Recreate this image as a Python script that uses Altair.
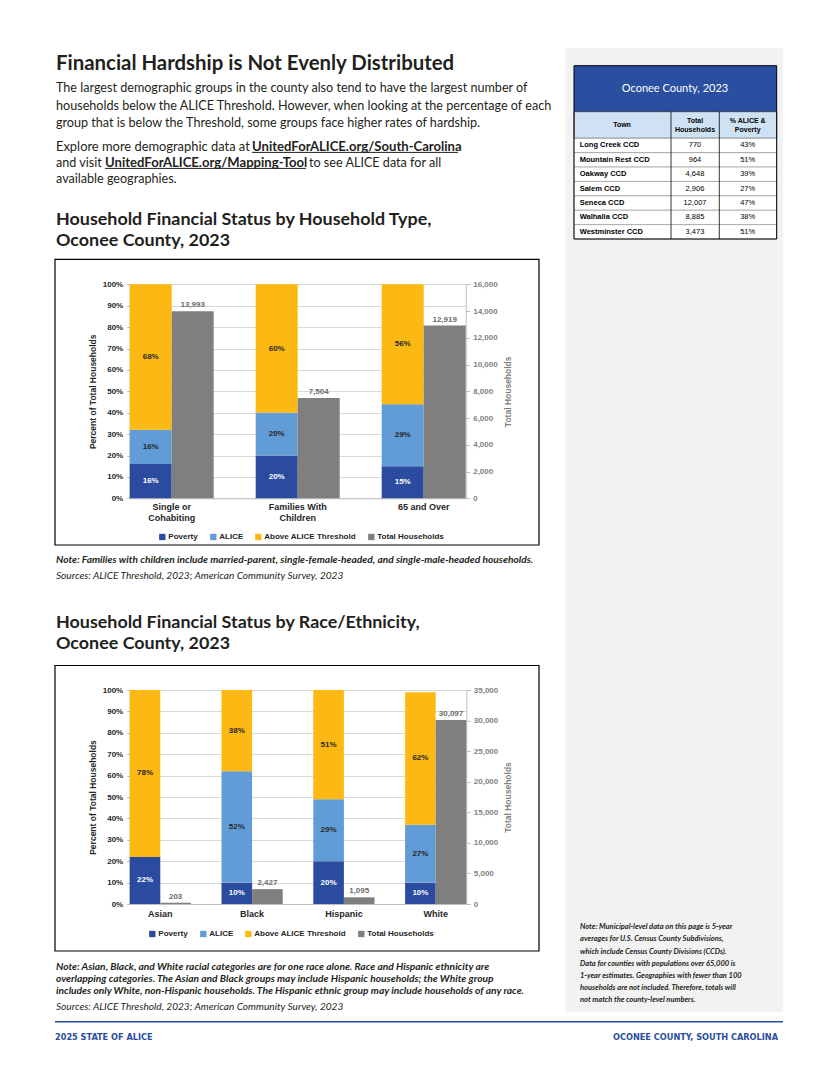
import altair as alt
import pandas as pd

# ------------------------------------------------------------------ data
series = ["Poverty", "ALICE", "Above ALICE Threshold", "Total Households"]
series_colors = ["#2b4b9f", "#629cd6", "#fdb913", "#7f7f7f"]

hh_types = ["Single or\nCohabiting", "Families With\nChildren", "65 and Over"]
hh_poverty = [16, 20, 15]
hh_alice = [16, 20, 29]
hh_above = [68, 60, 56]
hh_total = [13993, 7504, 12919]
hh_total_ticks = [0, 2000, 4000, 6000, 8000, 10000, 12000, 14000, 16000]

races = ["Asian", "Black", "Hispanic", "White"]
race_poverty = [22, 10, 20, 10]
race_alice = [0, 52, 29, 27]
race_above = [78, 38, 51, 62]
race_total = [203, 2427, 1095, 30097]
race_total_ticks = [0, 5000, 10000, 15000, 20000, 25000, 30000, 35000]

pct_ticks = [0, 10, 20, 30, 40, 50, 60, 70, 80, 90, 100]

towns = ["Long Creek CCD", "Mountain Rest CCD", "Oakway CCD", "Salem CCD",
         "Seneca CCD", "Walhalla CCD", "Westminster CCD"]
town_households = [770, 964, 4648, 2906, 12007, 8885, 3473]
town_alice_poverty = [43, 51, 39, 27, 47, 38, 51]
table_title = "Oconee County, 2023"
head_town = ["Town"]
head_total = ["Total", "Households"]
head_pct = ["% ALICE &", "Poverty"]

page_title = "Financial Hardship is Not Evenly Distributed"
intro_lines = [
    "The largest demographic groups in the county also tend to have the largest number of",
    "households below the ALICE Threshold. However, when looking at the percentage of each",
    "group that is below the Threshold, some groups face higher rates of hardship.",
]
explore_1a = "Explore more demographic data at"
explore_1b = "UnitedForALICE.org/South-Carolina"
explore_2a = "and visit"
explore_2b = "UnitedForALICE.org/Mapping-Tool"
explore_2c = "to see ALICE data for all"
explore_3 = "available geographies."
chart1_title = ["Household Financial Status by Household Type,", "Oconee County, 2023"]
chart1_note = ["Note: Families with children include married-parent, single-female-headed, and single-male-headed households."]
sources = ["Sources: ALICE Threshold, 2023; American Community Survey, 2023"]
chart2_title = ["Household Financial Status by Race/Ethnicity,", "Oconee County, 2023"]
chart2_note = [
    "Note: Asian, Black, and White racial categories are for one race alone. Race and Hispanic ethnicity are",
    "overlapping categories. The Asian and Black groups may include Hispanic households; the White group",
    "includes only White, non-Hispanic households. The Hispanic ethnic group may include households of any race.",
]
side_note = [
    "Note: Municipal-level data on this page is 5-year",
    "averages for U.S. Census County Subdivisions,",
    "which include Census County Divisions (CCDs).",
    "Data for counties with populations over 65,000 is",
    "1-year estimates. Geographies with fewer than 100",
    "households are not included. Therefore, totals will",
    "not match the county-level numbers.",
]
footer_left = "2025 STATE OF ALICE"
footer_right = "OCONEE COUNTY, SOUTH CAROLINA"
y_title = "Percent of Total Households"
y2_title = "Total Households"

# ------------------------------------------------------------------ style / layout
W, H = 806, 1060
CH = "Liberation Sans, Arial, Helvetica, sans-serif"
BODY = "Lato, 'Open Sans', sans-serif"
COND = "'Liberation Sans Narrow', 'Arial Narrow', 'DejaVu Sans Condensed', sans-serif"
INK = "#231f20"
BLUE = "#2a4ea0"
DARK = "#262626"
ONE = alt.Data(values=[{"k": 1}])


def rect(x, x2, y, y2, **kw):
    return alt.Chart(ONE).mark_rect(**kw).encode(
        x=alt.value(x), x2=alt.value(x2), y=alt.value(y), y2=alt.value(y2))


def rule(x, x2, y, y2, **kw):
    return alt.Chart(ONE).mark_rule(**kw).encode(
        x=alt.value(x), x2=alt.value(x2), y=alt.value(y), y2=alt.value(y2))


def word(text, x, y, align="left", **kw):
    return alt.Chart(ONE).mark_text(align=align, baseline="middle", **kw).encode(
        x=alt.value(x), y=alt.value(y), text=alt.value(text))


def text_lines(lines, x, y0, lh, align="left", **kw):
    df = pd.DataFrame({"t": lines, "i": list(range(len(lines)))})
    return (alt.Chart(df)
            .transform_calculate(py=f"{y0} + datum.i * {lh}")
            .mark_text(align=align, baseline="middle", **kw)
            .encode(x=alt.value(x), y=alt.Y("py:Q", scale=None, axis=None), text="t:N"))


def bar_block(cats, pov, ali, abv, totals, total_ticks, x0, x1, yb, yt, leg_x, leg_y, xlab_pad):
    rows = []
    for c, vals in zip(cats, zip(pov, ali, abv)):
        for k, v in enumerate(vals):
            rows.append({"cat": c, "series": series[k], "k": k, "pct": v / 100, "slot": "share"})
    share = pd.DataFrame(rows)
    tot = pd.DataFrame({"cat": cats, "total": totals, "slot": ["total"] * len(cats)})

    n = len(cats)
    step = (x1 - x0) / (n - 1 / 3)
    xs = alt.Scale(type="band", domain=cats, range=[x0, x1], paddingInner=1 / 3, paddingOuter=0)
    xa = alt.Scale(type="band", domain=cats, range=[x0, x1 - step / 3], paddingInner=2 / 3, paddingOuter=0)
    xb = alt.Scale(type="band", domain=cats, range=[x0 + step / 3, x1], paddingInner=2 / 3, paddingOuter=0)
    xo = alt.Scale(domain=["share", "total"], paddingInner=0, paddingOuter=0)
    ys = alt.Scale(domain=[0, 1], range=[yb, yt], nice=False)
    y2s = alt.Scale(domain=[0, total_ticks[-1]], range=[yb, yt], nice=False)
    cs = alt.Scale(domain=series, range=series_colors)

    x_axis = alt.Axis(orient="bottom", offset=yb - H, title=None, ticks=False, grid=False,
                      domainColor="#bfbfbf", labelFont=CH, labelFontSize=9, labelFontWeight="bold",
                      labelColor=DARK, labelPadding=xlab_pad, labelLineHeight=11, labelAngle=0,
                      labelExpr="split(datum.label, '\\n')")
    pct_axis = alt.Axis(orient="left", offset=-x0, values=[t / 100 for t in pct_ticks], format=".0%",
                        grid=True, gridColor="#d9d9d9", gridWidth=1, domainColor="#bfbfbf",
                        tickColor="#bfbfbf", tickSize=3, labelFont=CH, labelFontSize=8,
                        labelFontWeight="bold", labelColor=DARK, labelPadding=4,
                        title=y_title, titleFont=CH, titleFontSize=8.5, titleFontWeight="bold",
                        titleColor=DARK, titlePadding=5)
    tot_axis = alt.Axis(orient="right", offset=x1 - W, values=total_ticks, format=",.0f", grid=False,
                        domainColor="#bfbfbf", tickColor="#bfbfbf", tickSize=4, labelFont=CH,
                        labelFontSize=8, labelFontWeight="bold", labelColor="#7f7f7f", labelPadding=3,
                        title=y2_title, titleFont=CH, titleFontSize=8.5, titleFontWeight="bold",
                        titleColor="#7f7f7f", titleAngle=270, titleBaseline="top", titlePadding=6)
    legend = alt.Legend(orient="none", legendX=leg_x, legendY=leg_y, direction="horizontal",
                        title=None, symbolType="square", symbolSize=40, symbolStrokeWidth=0,
                        labelFont=CH, labelFontSize=8, labelFontWeight="bold", labelColor=DARK,
                        labelOffset=2, columnPadding=11, padding=0, labelLimit=300)

    stack = alt.Chart(share).transform_stack(
        stack="pct", groupby=["cat"], as_=["y0", "y1"], sort=[alt.SortField("k", order="ascending")])
    bars = stack.mark_bar().encode(
        x=alt.X("cat:N", scale=xs, axis=x_axis),
        xOffset=alt.XOffset("slot:N", scale=xo),
        y=alt.Y("y0:Q", scale=ys, axis=pct_axis),
        y2="y1:Q",
        color=alt.Color("series:N", scale=cs, legend=legend))
    labels = (stack.transform_filter("datum.pct > 0")
              .transform_calculate(mid="(datum.y0 + datum.y1) / 2", lab="format(datum.pct, '.0%')")
              .mark_text(font=CH, fontSize=8, fontWeight="bold")
              .encode(x=alt.X("cat:N", scale=xa, axis=None),
                      y=alt.Y("mid:Q", scale=ys, axis=None),
                      text="lab:N",
                      color=alt.condition(alt.datum.series == "Poverty", alt.value("#ffffff"),
                                          alt.value(DARK))))
    tbars = alt.Chart(tot).mark_bar(color=series_colors[3]).encode(
        x=alt.X("cat:N", scale=xs, axis=None),
        xOffset=alt.XOffset("slot:N", scale=xo),
        y=alt.Y("total:Q", scale=y2s, axis=tot_axis))
    tlabels = alt.Chart(tot).mark_text(font=CH, fontSize=8, fontWeight="bold", color="#6b6b6b",
                                       baseline="bottom", dy=-2).encode(
        x=alt.X("cat:N", scale=xb, axis=None),
        y=alt.Y("total:Q", scale=y2s, axis=None),
        text=alt.Text("total:Q", format=","))
    return [bars, labels, tbars, tlabels]


layers = []

# ---- right side panel and table
layers.append(rect(557, 775, 40, 1004, fill="#f2f2f2"))
layers.append(rect(566, 768.7, 57.7, 103.7, fill=BLUE))
layers.append(word(table_title, 667, 81.3, align="center", font=BODY, fontSize=11, color="#ffffff"))
layers.append(rect(566, 768.7, 103.7, 130.3, fill="#cfe2f3", stroke="#000000", strokeWidth=0.6))

tbl = pd.DataFrame({"town": towns, "hh": town_households, "pct": town_alice_poverty})
ry = alt.Scale(domain=towns, range=[130.3, 231], paddingInner=0, paddingOuter=0)
layers.append(alt.Chart(tbl).mark_rect(fill="#ffffff", stroke="#8c8c8c", strokeWidth=0.6).encode(
    y=alt.Y("town:N", scale=ry, axis=None), x=alt.value(566), x2=alt.value(768.7)))
layers.append(alt.Chart(tbl).mark_text(align="left", baseline="middle", font=CH, fontSize=7.5,
                                       fontWeight="bold", color="#000000").encode(
    y=alt.Y("town:N", scale=ry, axis=None), x=alt.value(571.7), text="town:N"))
layers.append(alt.Chart(tbl).mark_text(align="center", baseline="middle", font=CH, fontSize=7.5,
                                       color="#000000").encode(
    y=alt.Y("town:N", scale=ry, axis=None), x=alt.value(687), text=alt.Text("hh:Q", format=",")))
layers.append(alt.Chart(tbl).transform_calculate(lab="datum.pct + '%'").mark_text(
    align="center", baseline="middle", font=CH, fontSize=7.5, color="#000000").encode(
    y=alt.Y("town:N", scale=ry, axis=None), x=alt.value(739.7), text="lab:N"))
layers.append(text_lines(head_town, 614, 117, 8.5, align="center", font=CH, fontSize=7, fontWeight="bold", color="#000000"))
layers.append(text_lines(head_total, 687, 113, 8.5, align="center", font=CH, fontSize=7, fontWeight="bold", color="#000000"))
layers.append(text_lines(head_pct, 739.7, 113, 8.5, align="center", font=CH, fontSize=7, fontWeight="bold", color="#000000"))
layers.append(rule(663, 663, 103.7, 231, color="#000000", strokeWidth=0.8))
layers.append(rule(711.3, 711.3, 103.7, 231, color="#000000", strokeWidth=0.8))
layers.append(rect(566, 768.7, 57.7, 231, fillOpacity=0, stroke="#000000", strokeWidth=1))
layers.append(text_lines(side_note, 572, 919.3, 12.1, font=BODY, fontSize=7.5, fontWeight="bold",
                         fontStyle="italic", color=INK))

# ---- page text
layers.append(word(page_title, 48, 56, font=BODY, fontSize=20.4, fontWeight="bold", color=INK))
layers.append(text_lines(intro_lines, 48, 80.3, 17.2, font=BODY, fontSize=12.6, color=INK))
layers.append(word(explore_1a, 48, 139.3, font=BODY, fontSize=12.9, color=INK))
layers.append(word(explore_1b, 244, 139.3, font=BODY, fontSize=13.1, fontWeight="bold", color=INK))
layers.append(word(explore_2a, 48, 155.3, font=BODY, fontSize=12.6, color=INK))
layers.append(word(explore_2b, 97, 155.3, font=BODY, fontSize=13.1, fontWeight="bold", color=INK))
layers.append(word(explore_2c, 301, 155.3, font=BODY, fontSize=12.6, color=INK))
layers.append(word(explore_3, 48, 171.3, font=BODY, fontSize=12.6, color=INK))
layers.append(rule(244, 450, 144.4, 144.4, color=INK, strokeWidth=1))
layers.append(rule(97, 298, 160.4, 160.4, color=INK, strokeWidth=1))
layers.append(text_lines(chart1_title, 48, 212.3, 20.7, font=BODY, fontSize=17.9, fontWeight="bold", color=INK))

# ---- chart 1
layers += bar_block(hh_types, hh_poverty, hh_alice, hh_above, hh_total, hh_total_ticks,
                    121.7, 457.7, 490.3, 276.3, 150.3, 525, 4)
layers.append(rect(47, 531, 251.3, 537, fillOpacity=0, stroke="#000000", strokeWidth=1.2))
layers.append(text_lines(chart1_note, 48, 552.3, 15.7, font=BODY, fontSize=10.2, fontWeight="bold",
                         fontStyle="italic", color=INK))
layers.append(text_lines(sources, 48, 568, 15.7, font=BODY, fontSize=10.1, fontStyle="italic", color=INK))
layers.append(text_lines(chart2_title, 48, 615, 20.7, font=BODY, fontSize=17.9, fontWeight="bold", color=INK))

# ---- chart 2
layers += bar_block(races, race_poverty, race_alice, race_above, race_total, race_total_ticks,
                    121.7, 458.3, 896, 682, 140.3, 922, 5)
layers.append(rect(47, 531, 657.5, 943, fillOpacity=0, stroke="#000000", strokeWidth=1.2))
layers.append(text_lines(chart2_note, 48, 958.7, 11.9, font=BODY, fontSize=10.2, fontWeight="bold",
                         fontStyle="italic", color=INK))
layers.append(text_lines(sources, 48, 998.7, 12, font=BODY, fontSize=10.1, fontStyle="italic", color=INK))

# ---- footer
layers.append(rule(47, 775, 1013.7, 1013.7, color=BLUE, strokeWidth=1.5))
layers.append(word(footer_left, 47, 1029, font=COND, fontSize=9.1, fontWeight="bold", color=BLUE))
layers.append(word(footer_right, 770, 1029, align="right", font=COND, fontSize=9.1, fontWeight="bold", color=BLUE))

chart = (alt.layer(*layers)
         .resolve_scale(x="independent", y="independent", color="independent", xOffset="independent")
         .properties(width=W, height=H, padding=0, background="#ffffff",
                     autosize=alt.AutoSizeParams(type="none", contains="padding"))
         .configure_view(strokeWidth=0))

chart.save("out.html", embed_options={"renderer": "svg", "actions": False})
